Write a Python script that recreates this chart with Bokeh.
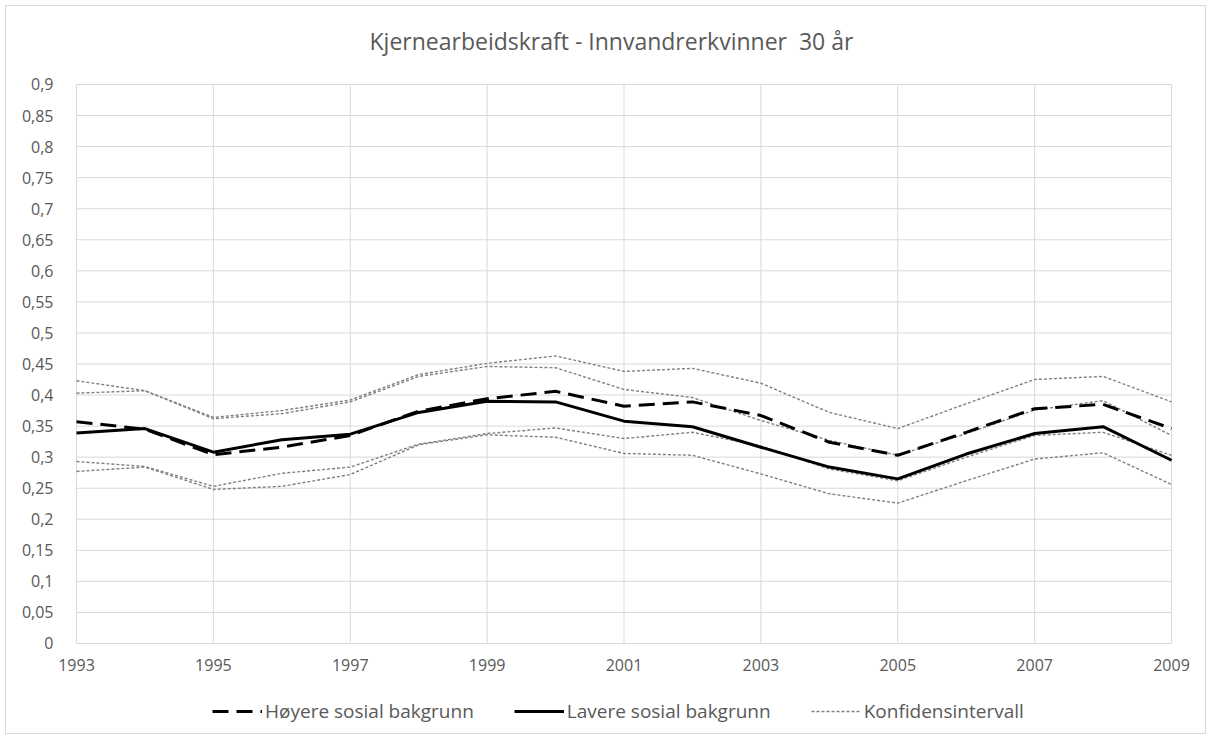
from bokeh.plotting import figure
from bokeh.models import FixedTicker, Legend, LegendItem, ColumnDataSource
from bokeh.embed import file_html
from bokeh.resources import INLINE

years = list(range(1993, 2010))
hoyere = [0.357, 0.345, 0.304, 0.316, 0.335, 0.374, 0.394, 0.406, 0.382, 0.389, 0.367, 0.324, 0.303, 0.340, 0.378, 0.385, 0.346]
lavere = [0.339, 0.346, 0.308, 0.328, 0.337, 0.372, 0.390, 0.389, 0.358, 0.349, 0.316, 0.284, 0.265, 0.305, 0.338, 0.349, 0.295]
ci_a = [0.423, 0.407, 0.364, 0.375, 0.392, 0.433, 0.451, 0.463, 0.438, 0.443, 0.419, 0.372, 0.346, 0.386, 0.425, 0.430, 0.389]
ci_b = [0.403, 0.407, 0.362, 0.370, 0.389, 0.430, 0.446, 0.444, 0.409, 0.396, 0.359, 0.327, 0.303, 0.338, 0.376, 0.391, 0.335]
ci_c = [0.293, 0.285, 0.253, 0.274, 0.284, 0.321, 0.338, 0.347, 0.330, 0.340, 0.318, 0.281, 0.262, 0.300, 0.335, 0.340, 0.303]
ci_d = [0.277, 0.284, 0.248, 0.253, 0.272, 0.320, 0.336, 0.332, 0.306, 0.303, 0.273, 0.241, 0.226, 0.262, 0.297, 0.307, 0.256]

x_ticks = [1993, 1995, 1997, 1999, 2001, 2003, 2005, 2007, 2009]
y_ticks = [0, 0.05, 0.1, 0.15, 0.2, 0.25, 0.3, 0.35, 0.4, 0.45, 0.5, 0.55, 0.6, 0.65, 0.7, 0.75, 0.8, 0.85, 0.9]
y_labels = ["0", "0,05", "0,1", "0,15", "0,2", "0,25", "0,3", "0,35", "0,4", "0,45", "0,5", "0,55", "0,6", "0,65", "0,7", "0,75", "0,8", "0,85", "0,9"]

title_text = "Kjernearbeidskraft - Innvandrerkvinner \u00a030 år"
legend_labels = ["Høyere sosial bakgrunn", "Lavere sosial bakgrunn", "Konfidensintervall"]

FONT = "Open Sans"
TXT = "#595959"
GRID = "#d9d9d9"

# The frame is wider/taller than the value area so that axis labels and the
# legend (drawn inside the frame) are not clipped; the axes sit at 1993 and 0.
p = figure(frame_width=1185, frame_height=659, output_backend="svg", toolbar_location=None,
           x_range=(1992.094, 2009.409), y_range=(-0.1417, 0.9193),
           min_border_left=8, min_border_right=6, min_border_top=65, min_border_bottom=2)
p.styles = {"border": "1px solid #d9d9d9", "margin": "5px"}

p.title.text = title_text
p.title.align = "left"
p.title.offset = 355
p.title.text_font = FONT
p.title.text_font_size = "23px"
p.title.text_font_style = "normal"
p.title.text_color = TXT
p.title.text_line_height = 0.9
p.title.standoff = 32

p.outline_line_color = None
p.background_fill_color = "white"
p.border_fill_color = "white"

p.xaxis.ticker = FixedTicker(ticks=x_ticks)
p.xaxis.fixed_location = y_ticks[0]
p.yaxis.ticker = FixedTicker(ticks=y_ticks)
p.yaxis.fixed_location = x_ticks[0]
p.yaxis.major_label_overrides = {t: l for t, l in zip(y_ticks, y_labels)}
for ax in (p.xaxis, p.yaxis):
    ax.axis_line_color = None
    ax.major_tick_line_color = None
    ax.minor_tick_line_color = None
    ax.major_label_text_font = FONT
    ax.major_label_text_font_size = "16px"
    ax.major_label_text_color = TXT
p.xaxis.major_label_standoff = 10
p.yaxis.major_label_standoff = 17

# grid only across the value area
p.xgrid.visible = False
p.ygrid.visible = False
p.segment(x0=x_ticks, y0=[y_ticks[0]] * len(x_ticks), x1=x_ticks, y1=[y_ticks[-1]] * len(x_ticks),
          line_color=GRID, line_width=1)
p.segment(x0=[x_ticks[0]] * len(y_ticks), y0=y_ticks, x1=[x_ticks[-1]] * len(y_ticks), y1=y_ticks,
          line_color=GRID, line_width=1)

src = ColumnDataSource(dict(x=years, h=hoyere, l=lavere, a=ci_a, b=ci_b, c=ci_c, d=ci_d))

ci_renderers = []
for col in ["a", "b", "c", "d"]:
    r = p.line("x", col, source=src, line_color="#808080", line_width=1.4, line_dash="3 2")
    ci_renderers.append(r)
r_h = p.line("x", "h", source=src, line_color="black", line_width=3, line_dash="16 8")
r_l = p.line("x", "l", source=src, line_color="black", line_width=3)

legend = Legend(items=[
    LegendItem(label=legend_labels[0], renderers=[r_h]),
    LegendItem(label=legend_labels[1], renderers=[r_l]),
    LegendItem(label=legend_labels[2], renderers=[ci_renderers[0]]),
], orientation="horizontal", location=(198, 7))
legend.label_text_font = FONT
legend.label_text_font_size = "19px"
legend.label_text_color = TXT
legend.glyph_width = 50
legend.label_standoff = 3
legend.spacing = 40
legend.padding = 5
legend.border_line_color = None
legend.background_fill_alpha = 0
p.add_layout(legend, "center")

open("out.html", "w").write(file_html(p, INLINE))
